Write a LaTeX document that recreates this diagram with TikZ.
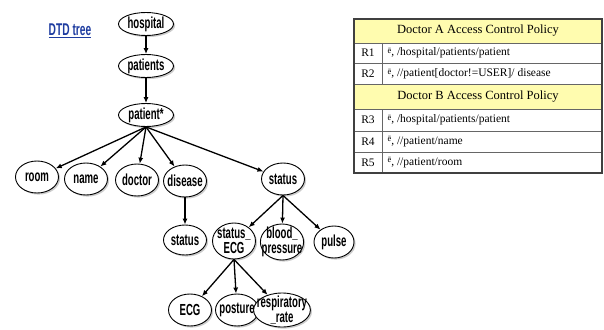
\documentclass[tikz,border=0pt]{standalone}
\usepackage{fontspec}
\setmainfont{Liberation Serif}
\newfontfamily\treefont[FakeStretch=0.6]{Liberation Sans}
\usetikzlibrary{shapes.geometric,shadows,arrows.meta}
\definecolor{hdrfill}{RGB}{255,252,175}
\definecolor{dtdblue}{RGB}{30,60,160}
\newcommand{\negsign}{\raisebox{0.4ex}{\fontsize{8.5}{8.5}\selectfont ē}}

\begin{document}
\begin{tikzpicture}[x=1pt, y=-1pt,
    blob/.style={ellipse, draw, line width=0.9pt, fill=white,
      drop shadow={shadow xshift=1.6pt, shadow yshift=-1.6pt, fill=black!40},
      inner sep=-5pt, minimum width=43pt, minimum height=32pt, align=center,
      font=\treefont\bfseries\fontsize{16}{15}\selectfont},
    topblob/.style={blob, minimum width=55pt, minimum height=23pt},
    link/.style={line width=1.3pt, -{Latex[length=6pt,width=5pt]}},
    hdr/.style={font=\fontsize{12.5}{14}\selectfont},
    rid/.style={font=\fontsize{11.5}{13}\selectfont},
    rule/.style={anchor=west, font=\fontsize{11.5}{13}\selectfont}]

  \useasboundingbox (0,0) rectangle (604,329);

  \node[text=dtdblue, font=\treefont\bfseries\fontsize{17}{17}\selectfont] (dtd) at (70,31) {\underline{DTD tree}};

  % tree
  \node[topblob] (hosp) at (146,24) {hospital};
  \node[topblob] (pats) at (146,66) {patients};
  \node[topblob] (pat) at (146,115) {patient*};

  \node[blob] (room) at (37,177) {room};
  \node[blob] (name) at (86,179) {name};
  \node[blob] (doctor) at (137,180) {doctor};
  \node[blob] (disease) at (185,181) {disease};
  \node[blob] (status) at (283,179) {status};

  \node[blob, minimum height=30pt] (dstat) at (185,240) {status};
  \node[blob, minimum height=36pt] (secg) at (234,241) {status\_\\ECG};
  \node[blob, minimum height=36pt] (blood) at (282,242) {blood\_\\pressure};
  \node[blob, minimum width=40pt] (pulse) at (334,242) {pulse};

  \node[blob] (ecg) at (190,310) {ECG};
  \node[blob] (posture) at (237,310) {posture};
  \node[blob, minimum width=40pt, minimum height=34pt] (resp) at (282,310) {respiratory\\\_rate};

  \draw[link] (hosp) -- (pats);
  \draw[link] (pats) -- (pat);
  \foreach \c in {room,name,doctor,disease,status}
    \draw[link] (pat.south) -- (\c);
  \draw[link] (disease) -- (dstat);
  \foreach \c in {secg,blood,pulse}
    \draw[link] (status.south) -- (\c);
  \foreach \c in {ecg,posture,resp}
    \draw[link] (secg.south) -- (\c);

  % policy table
  \fill[hdrfill] (354,19) rectangle (602,43);
  \fill[hdrfill] (354,84) rectangle (602,109);
  \foreach \y in {43,63,84,109,131,152}
    \draw[black!60, line width=0.8pt] (354,\y) -- (602,\y);
  \draw[black!60, line width=0.8pt] (382,43) -- (382,84);
  \draw[black!60, line width=0.8pt] (382,109) -- (382,173);
  \draw[black!75, line width=1.8pt] (354,19) rectangle (602,173);

  \node[hdr] (hdrA) at (478,31) {Doctor A Access Control Policy};
  \node[rid] (r1) at (368,53) {R1};
  \node[rule] (p1) at (384,53) {\negsign, /hospital/patients/patient};
  \node[rid] (r2) at (368,73.5) {R2};
  \node[rule] (p2) at (384,73.5) {\negsign, //patient[doctor!=USER]/ disease};
  \node[hdr] (hdrB) at (478,96.5) {Doctor B Access Control Policy};
  \node[rid] (r3) at (368,120) {R3};
  \node[rule] (p3) at (384,120) {\negsign, /hospital/patients/patient};
  \node[rid] (r4) at (368,141.5) {R4};
  \node[rule] (p4) at (384,141.5) {\negsign, //patient/name};
  \node[rid] (r5) at (368,162.5) {R5};
  \node[rule] (p5) at (384,162.5) {\negsign, //patient/room};

\end{tikzpicture}
\end{document}
